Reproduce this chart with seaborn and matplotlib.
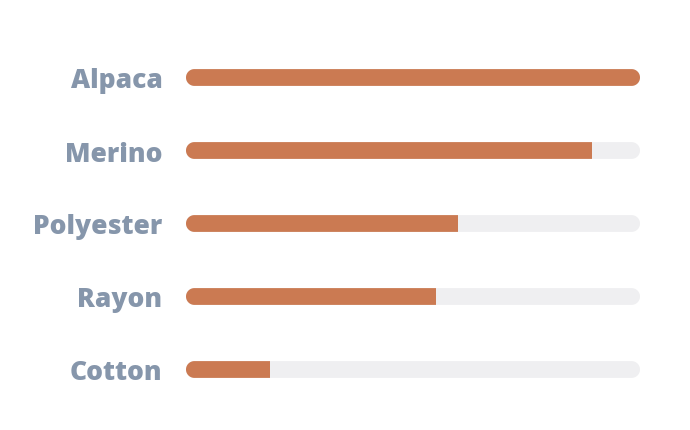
import matplotlib
matplotlib.use("Agg")
import matplotlib.pyplot as plt
import numpy as np
import seaborn as sns
from matplotlib.patches import Polygon

# Dados do grafico.
FIBRAS = ["Alpaca", "Merino", "Polyester", "Rayon", "Cotton"]
VALORES = [100, 89.5, 60, 55, 18.5]
MAXIMO = 100

# Cores e estilo.
COR_BARRA = "#cb7a52"
COR_TRILHO = "#efeff1"
COR_TEXTO = "#8696ab"
ALTURA_BARRA = 0.23

LARGURA_PX, ALTURA_PX = 690, 431


def arredondar(ax, patch, px_x, px_y):
    """Troca um retangulo por uma capsula (pontas em semicirculo)."""
    x0, y0 = patch.get_x(), patch.get_y()
    w, h = patch.get_width(), patch.get_height()
    ry = h / 2
    rx = ry * px_y / px_x
    yc = y0 + ry
    ang = np.linspace(-np.pi / 2, np.pi / 2, 40)
    direita = np.column_stack([x0 + w - rx + rx * np.cos(ang), yc + ry * np.sin(ang)])
    esquerda = np.column_stack([x0 + rx - rx * np.cos(ang), yc - ry * np.sin(ang)])
    capsula = Polygon(np.vstack([direita, esquerda]), closed=True,
                      facecolor=patch.get_facecolor(), edgecolor="none", zorder=1)
    patch.remove()
    ax.add_patch(capsula)
    return capsula


def main() -> None:
    sns.set_style("white")
    plt.rcParams["font.family"] = ["Open Sans", "DejaVu Sans"]

    fig, ax = plt.subplots(figsize=(LARGURA_PX / 100, ALTURA_PX / 100), dpi=100)
    esquerda, direita = 186 / LARGURA_PX, 640 / LARGURA_PX
    topo, base = 1 - 42 / ALTURA_PX, 1 - 407 / ALTURA_PX
    fig.subplots_adjust(left=esquerda, right=direita, top=topo, bottom=base)

    sns.barplot(x=[MAXIMO] * len(FIBRAS), y=FIBRAS, color=COR_TRILHO,
                width=ALTURA_BARRA, saturation=1, ax=ax)
    sns.barplot(x=VALORES, y=FIBRAS, color=COR_BARRA,
                width=ALTURA_BARRA, saturation=1, ax=ax)

    ax.set_xlim(0, MAXIMO)
    ax.set_ylim(len(FIBRAS) - 0.5, -0.5)

    # px por unidade em cada eixo, para as pontas ficarem circulares.
    px_x = (direita - esquerda) * LARGURA_PX / MAXIMO
    px_y = (topo - base) * ALTURA_PX / len(FIBRAS)

    patches = list(ax.patches)
    trilhos = patches[:len(FIBRAS)]
    barras = patches[len(FIBRAS):]
    for trilho, barra in zip(trilhos, barras):
        capsula = arredondar(ax, trilho, px_x, px_y)
        barra.set_clip_path(capsula)
        barra.set_edgecolor("none")
        barra.set_zorder(2)

    sns.despine(ax=ax, left=True, bottom=True)
    ax.set_xlabel("")
    ax.set_ylabel("")
    ax.set_xticks([])
    ax.tick_params(axis="y", length=0, pad=17)
    for rotulo in ax.get_yticklabels():
        rotulo.set_fontsize(19)
        rotulo.set_fontweight("heavy")
        rotulo.set_color(COR_TEXTO)

    fig.savefig("out.png", dpi=100, facecolor="white")
    plt.close(fig)


if __name__ == "__main__":
    main()
